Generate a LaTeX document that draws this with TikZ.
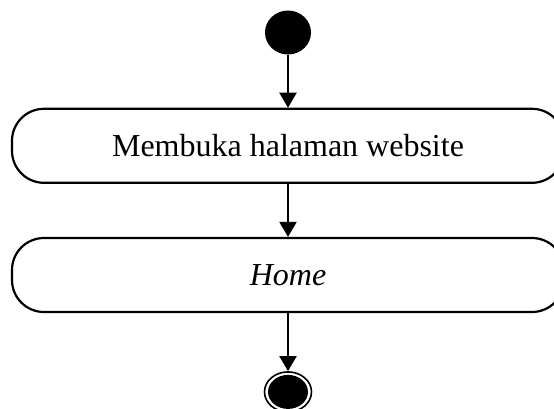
\documentclass[tikz,border=0pt]{standalone}
\usepackage{fontspec}
\setmainfont{Liberation Serif}
\usetikzlibrary{positioning,arrows.meta,shapes.geometric}
\tikzset{
  >={Triangle[width=17pt,length=15pt]}, node distance=53pt,
  flow/.style={->, line width=2.2pt},
  startnode/.style={ellipse, fill=black, minimum width=46pt, minimum height=44pt, inner sep=0pt},
  activity/.style={draw, line width=2.2pt, rounded corners=32pt, minimum width=552pt,
    minimum height=74pt, font=\fontsize{32}{38}\selectfont},
  endnode/.style={ellipse, draw, line width=1.6pt, minimum width=47pt, minimum height=40pt, inner sep=0pt}
  }

\begin{document}
\begin{tikzpicture}[x=1pt,y=-1pt]
    \useasboundingbox (0,0) rectangle (554,408);

    \node [startnode] at (288,32.5) (start) {};

    \node [activity, below=of start] (a1) {Membuka halaman website};
    \node [activity, below=of a1] (a2) {\textit{Home}};
    \node [endnode, below=58pt of a2] (end) {};
    % filled dot inside the final state
    \fill (end.center) ellipse [x radius=20pt, y radius=17pt];

    \draw [flow] (start) -- (a1);
    \draw [flow] (a1) -- (a2);
    \draw [flow] (a2) -- (end);
  \end{tikzpicture}
\end{document}
